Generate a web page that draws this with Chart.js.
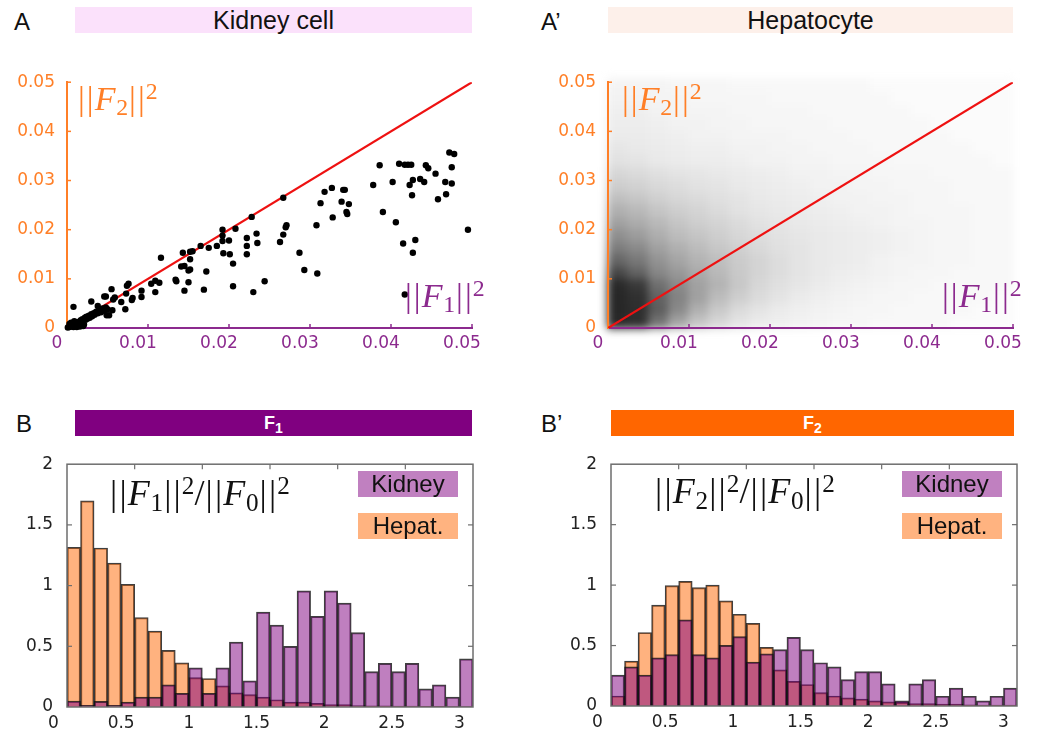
<!DOCTYPE html>
<html>
<head>
<meta charset="utf-8">
<script src="https://cdn.jsdelivr.net/npm/chart.js@4.4.1/dist/chart.umd.min.js"></script>
<style>
  html, body { margin: 0; padding: 0; background: #fff; }
  body { position: relative; width: 1037px; height: 733px; overflow: hidden; font-family: "Liberation Sans", Arial, sans-serif; color: #111; }
  canvas { position: absolute; }
  .tag { position: absolute; font-size: 24px; line-height: 24px; }
  .band { position: absolute; height: 26px; line-height: 26px; text-align: center; font-size: 25px; }
  .band.dark { color: #fff; font-weight: bold; font-size: 18px; }
  .band.dark .s { font-size: 14px; position: relative; top: 4px; }
  .math { position: absolute; font-family: "Liberation Serif", "DejaVu Serif", serif; white-space: nowrap; line-height: 1; }
  .math i { font-style: italic; margin-right: 0.02em; }
  .math .b { margin: 0 0.03em; }
  .math .sb { font-size: 0.7em; position: relative; top: 0.22em; }
  .math .sp { font-size: 0.7em; position: relative; top: -0.45em; }
  .key { position: absolute; width: 100px; height: 26px; line-height: 26px; text-align: center; font-size: 24px; }
</style>
</head>
<body>

<div class="tag" style="left:14px;top:10px">A</div>
<div class="band" style="left:75px;top:7px;width:397px;background:#fbe1fb">Kidney cell</div>
<div class="tag" style="left:541px;top:10px">A’</div>
<div class="band" style="left:608px;top:7px;width:405px;background:#fdf0ea">Hepatocyte</div>

<div class="tag" style="left:16px;top:412px">B</div>
<div class="band dark" style="left:75px;top:410px;width:397px;background:#800080">F<span class="s">1</span></div>
<div class="tag" style="left:541px;top:412px">B’</div>
<div class="band dark" style="left:611px;top:410px;width:403px;background:#ff6600">F<span class="s">2</span></div>

<canvas id="kidney" width="500" height="310" style="left:0;top:60px"></canvas>
<canvas id="hepCloud" width="517" height="310" style="left:520px;top:60px;filter:blur(4px)"></canvas>
<canvas id="hep" width="517" height="310" style="left:520px;top:60px"></canvas>
<canvas id="histF1" width="500" height="300" style="left:0;top:440px"></canvas>
<canvas id="histF2" width="517" height="300" style="left:520px;top:440px"></canvas>

<div class="math" style="left:77px;top:82px;font-size:34px;color:#ff7f27"><span class="b">|</span><span class="b">|</span><i>F</i><span class="sb">2</span><span class="b">|</span><span class="b">|</span><span class="sp">2</span></div>
<div class="math" style="left:404px;top:279px;font-size:34px;color:#8c2a8e"><span class="b">|</span><span class="b">|</span><i>F</i><span class="sb">1</span><span class="b">|</span><span class="b">|</span><span class="sp">2</span></div>
<div class="math" style="left:621px;top:82px;font-size:34px;color:#ff7f27"><span class="b">|</span><span class="b">|</span><i>F</i><span class="sb">2</span><span class="b">|</span><span class="b">|</span><span class="sp">2</span></div>
<div class="math" style="left:941px;top:279px;font-size:34px;color:#8c2a8e"><span class="b">|</span><span class="b">|</span><i>F</i><span class="sb">1</span><span class="b">|</span><span class="b">|</span><span class="sp">2</span></div>

<div class="math" style="left:109px;top:475px;font-size:36px;color:#111"><span class="b">|</span><span class="b">|</span><i>F</i><span class="sb">1</span><span class="b">|</span><span class="b">|</span><span class="sp">2</span>/<span class="b">|</span><span class="b">|</span><i>F</i><span class="sb">0</span><span class="b">|</span><span class="b">|</span><span class="sp">2</span></div>
<div class="math" style="left:654px;top:473px;font-size:36px;color:#111"><span class="b">|</span><span class="b">|</span><i>F</i><span class="sb">2</span><span class="b">|</span><span class="b">|</span><span class="sp">2</span>/<span class="b">|</span><span class="b">|</span><i>F</i><span class="sb">0</span><span class="b">|</span><span class="b">|</span><span class="sp">2</span></div>

<div class="key" style="left:358px;top:471px;background:#c080c0">Kidney</div>
<div class="key" style="left:358px;top:513px;background:#ffb380">Hepat.</div>
<div class="key" style="left:902px;top:471px;background:#c080c0">Kidney</div>
<div class="key" style="left:902px;top:513px;background:#ffb380">Hepat.</div>

<script>
// ---------- values ----------
const scatterTicks = [0, 0.01, 0.02, 0.03, 0.04, 0.05];

// kidney cells: [ ||F1||^2 , ||F2||^2 ]
const kidneyF1F2 = [
  [0.0001,0.0001],[0.0003,0.0002],[0.0004,0.0004],[0.0006,0.0003],[0.0007,0.0006],
  [0.0008,0.0002],[0.0009,0.0008],[0.0010,0.0005],[0.0011,0.0010],[0.0012,0.0007],
  [0.0013,0.0012],[0.0014,0.0004],[0.0015,0.0013],[0.0016,0.0009],[0.0017,0.0016],
  [0.0018,0.0012],[0.0019,0.0018],[0.0020,0.0015],[0.0021,0.0007],[0.0022,0.0021],
  [0.0023,0.0017],[0.0024,0.0023],[0.0025,0.0019],[0.0027,0.0025],[0.0028,0.0021],
  [0.0030,0.0028],[0.0031,0.0024],[0.0033,0.0030],[0.0034,0.0027],[0.0036,0.0033],
  [0.0038,0.0030],[0.0040,0.0036],[0.0042,0.0032],[0.0044,0.0040],[0.0046,0.0036],
  [0.0048,0.0042],[0.0050,0.0038],[0.0005,0.0011],[0.0009,0.0014],[0.0003,0.0008],
  [0.0012,0.0002],[0.0016,0.0003],[0.0020,0.0004],[0.0008,0.0043],[0.0030,0.0054],
  [0.0038,0.0045],[0.0046,0.0064],[0.0048,0.0064],[0.0049,0.0026],[0.0052,0.0026],
  [0.0055,0.0079],[0.0056,0.0036],[0.0057,0.0058],[0.0059,0.0062],[0.0067,0.0053],
  [0.0072,0.0038],[0.0073,0.0070],[0.0074,0.0086],[0.0076,0.0090],[0.0080,0.0057],
  [0.0081,0.0061],[0.0092,0.0076],[0.0092,0.0063],[0.0104,0.0090],[0.0109,0.0096],
  [0.0109,0.0073],[0.0114,0.0092],[0.0116,0.0143],[0.0134,0.0098],[0.0135,0.0095],
  [0.0141,0.0125],[0.0145,0.0126],[0.0143,0.0153],[0.0145,0.0076],[0.0150,0.0117],
  [0.0152,0.0119],[0.0150,0.0093],[0.0152,0.0140],[0.0152,0.0155],[0.0155,0.0156],
  [0.0165,0.0167],[0.0169,0.0078],[0.0172,0.0115],[0.0175,0.0163],[0.0185,0.0167],
  [0.0192,0.0200],[0.0192,0.0188],[0.0192,0.0177],[0.0193,0.0152],[0.0200,0.0178],
  [0.0201,0.0150],[0.0205,0.0131],[0.0205,0.0085],[0.0208,0.0202],[0.0222,0.0183],
  [0.0222,0.0167],[0.0222,0.0150],[0.0228,0.0226],[0.0234,0.0192],[0.0235,0.0173],
  [0.0230,0.0073],[0.0244,0.0095],[0.0263,0.0175],[0.0267,0.0190],[0.0270,0.0205],
  [0.0271,0.0209],[0.0267,0.0265],[0.0287,0.0153],[0.0293,0.0118],[0.0309,0.0111],
  [0.0308,0.0209],[0.0313,0.0254],[0.0318,0.0277],[0.0327,0.0285],[0.0328,0.0225],
  [0.0339,0.0257],[0.0341,0.0281],[0.0343,0.0281],[0.0345,0.0236],[0.0346,0.0232],
  [0.0348,0.0252],[0.0378,0.0291],[0.0386,0.0331],[0.0390,0.0236],[0.0402,0.0297],
  [0.0406,0.0215],[0.0410,0.0334],[0.0415,0.0172],[0.0417,0.0068],[0.0417,0.0332],
  [0.0421,0.0332],[0.0425,0.0332],[0.0423,0.0291],[0.0426,0.0270],[0.0427,0.0301],
  [0.0427,0.0153],[0.0430,0.0179],[0.0436,0.0303],[0.0441,0.0297],[0.0443,0.0331],
  [0.0446,0.0325],[0.0455,0.0314],[0.0458,0.0262],[0.0467,0.0297],[0.0468,0.0272],
  [0.0475,0.0327],[0.0475,0.0294],[0.0472,0.0357],[0.0478,0.0354],[0.0495,0.0200]
];

// identity reference line ||F1||^2 = ||F2||^2
const diagonal = [0, 0.05];

// hepatocytes: point density (percent darkness) on a square grid,
// rows from ||F2||^2 = 0 upward, columns from ||F1||^2 = 0 rightward
const hepCell = 0.0025;
const hepDensity = [
  [95,92,62,40,26,18,12, 9, 7, 6, 5, 4, 4, 3, 3, 3, 3, 2, 2, 2],
  [96,93,72,52,35,24,16,12, 9, 7, 6, 5, 4, 4, 3, 3, 3, 3, 2, 2],
  [96,92,70,55,42,30,22,16,12, 9, 7, 6, 5, 4, 4, 3, 3, 3, 3, 2],
  [95,88,64,52,42,34,25,18,14,11, 9, 7, 6, 5, 4, 4, 3, 3, 3, 3],
  [82,70,54,46,38,31,24,19,15,12,10, 8, 7, 6, 5, 4, 4, 3, 3, 3],
  [68,60,48,40,34,29,23,19,15,12,10, 9, 8, 6, 5, 5, 4, 4, 3, 3],
  [58,52,42,35,30,25,21,17,14,12,10, 9, 8, 7, 6, 5, 4, 4, 3, 3],
  [50,44,36,30,26,22,18,15,13,11,10, 9, 8, 7, 6, 5, 4, 4, 3, 3],
  [42,37,31,26,22,19,16,13,11,10, 9, 8, 7, 6, 5, 5, 4, 4, 3, 3],
  [35,31,26,22,19,16,13,11,10, 9, 8, 7, 6, 6, 5, 4, 4, 4, 3, 3],
  [28,25,21,18,16,14,12,10, 9, 8, 7, 6, 6, 5, 5, 4, 4, 3, 3, 3],
  [22,20,17,15,13,12,10, 9, 8, 7, 6, 6, 5, 5, 4, 4, 4, 3, 3, 3],
  [18,16,14,12,11,10, 9, 8, 7, 6, 6, 5, 5, 4, 4, 4, 3, 3, 3, 3],
  [13,12,10, 9, 8, 8, 7, 6, 6, 5, 5, 4, 4, 4, 3, 3, 3, 3, 3, 2],
  [11,10, 9, 8, 7, 7, 6, 6, 5, 5, 4, 4, 4, 3, 3, 3, 3, 3, 2, 2],
  [ 9, 9, 8, 7, 6, 6, 5, 5, 5, 4, 4, 4, 3, 3, 3, 3, 3, 2, 2, 2],
  [ 8, 8, 7, 6, 6, 5, 5, 4, 4, 4, 4, 3, 3, 3, 3, 3, 2, 2, 2, 2],
  [ 7, 7, 6, 5, 5, 5, 4, 4, 4, 4, 3, 3, 3, 3, 3, 2, 2, 2, 2, 2],
  [ 6, 6, 5, 5, 4, 4, 4, 4, 3, 3, 3, 3, 3, 3, 2, 2, 2, 2, 2, 2],
  [ 5, 5, 5, 4, 4, 4, 3, 3, 3, 3, 3, 3, 3, 2, 2, 2, 2, 2, 2, 2]
];

// normalised histograms of ||Fk||^2/||F0||^2, 30 bins of width 0.1 from 0 to 3
const binWidth = 0.1;
const histXTicks = [0, 0.5, 1, 1.5, 2, 2.5, 3];
const histYTicks = [0, 0.5, 1, 1.5, 2];
const f1Kidney = [0.049,0.014,0.046,0.014,0.040,0.081,0.081,0.183,0.113,0.323,
                  0.113,0.323,0.534,0.216,0.782,0.674,0.499,0.957,0.747,0.957,
                  0.855,0.612,0.291,0.359,0.291,0.359,0.149,0.183,0.081,0.396];
const f1Hepat  = [1.315,1.698,1.310,1.186,1.011,0.736,0.626,0.466,0.364,0.243,
                  0.235,0.175,0.116,0.103,0.081,0.060,0.040,0.040,0.030,0.020,
                  0.020,0.012,0.010,0.010,0.008,0.008,0.005,0.005,0.004,0.004];
const f2Kidney = [0.256,0.323,0.256,0.398,0.426,0.713,0.426,0.398,0.501,0.574,
                  0.363,0.431,0.466,0.568,0.466,0.358,0.323,0.218,0.285,0.285,
                  0.183,0.043,0.183,0.218,0.081,0.148,0.081,0.043,0.081,0.148];
const f2Hepat  = [0.083,0.372,0.608,0.834,0.996,1.031,0.980,1.000,0.870,0.759,
                  0.684,0.485,0.299,0.204,0.178,0.111,0.083,0.067,0.057,0.043,
                  0.035,0.030,0.020,0.020,0.015,0.015,0.010,0.008,0.008,0.008];

// ---------- styling ----------
const PURPLE = '#8c2a8e';
const ORANGE = '#ff7f27';
const tickFont = { family: "'DejaVu Sans', sans-serif", size: 17 };

const fixedTicks = values => scale => { scale.ticks = values.map(v => ({ value: v })); };

// short inward tick marks and the histogram frame
const axisMarks = {
  id: 'axisMarks',
  afterDraw(chart, args, o) {
    if (!o || !o.mode) return;
    const { ctx, chartArea: a, scales: { x, y } } = chart;
    ctx.save();
    if (o.mode === 'spines') {
      ctx.lineWidth = 1.5;
      ctx.strokeStyle = PURPLE;
      x.ticks.forEach(t => {
        if (t.value === x.min) return;
        const px = x.getPixelForValue(t.value);
        ctx.beginPath(); ctx.moveTo(px, a.bottom); ctx.lineTo(px, a.bottom - 4); ctx.stroke();
      });
      ctx.strokeStyle = ORANGE;
      y.ticks.forEach(t => {
        if (t.value === y.min) return;
        const py = y.getPixelForValue(t.value);
        ctx.beginPath(); ctx.moveTo(a.left, py); ctx.lineTo(a.left + 4, py); ctx.stroke();
      });
    } else if (o.mode === 'frame') {
      ctx.strokeStyle = '#6e6e6e';
      ctx.lineWidth = 1.5;
      ctx.strokeRect(a.left, a.top, a.right - a.left, a.bottom - a.top);
      ctx.lineWidth = 1.2;
      y.ticks.forEach(t => {
        if (t.value === y.min || t.value === y.max) return;
        const py = y.getPixelForValue(t.value);
        ctx.beginPath(); ctx.moveTo(a.left, py); ctx.lineTo(a.left + 5, py); ctx.stroke();
        ctx.beginPath(); ctx.moveTo(a.right, py); ctx.lineTo(a.right - 5, py); ctx.stroke();
      });
      x.ticks.forEach(t => {
        if (t.value === x.min || t.value === x.max) return;
        const px = x.getPixelForValue(t.value);
        ctx.beginPath(); ctx.moveTo(px, a.top); ctx.lineTo(px, a.top + 5); ctx.stroke();
      });
    }
    ctx.restore();
  }
};
Chart.register(axisMarks);

function scatterOptions(yWidth, padRight, visibleAxes) {
  return {
    responsive: false,
    animation: false,
    events: [],
    layout: { padding: { top: 19, right: padRight, left: 0, bottom: 0 } },
    plugins: {
      legend: { display: false },
      tooltip: { enabled: false },
      axisMarks: { mode: visibleAxes ? 'spines' : null }
    },
    scales: {
      x: {
        type: 'linear', min: 0, max: 0.05,
        afterBuildTicks: fixedTicks(scatterTicks),
        afterFit: s => { s.height = 42; },
        grid: { display: false, drawTicks: false },
        border: { display: visibleAxes, color: PURPLE, width: 2 },
        ticks: { display: visibleAxes, color: PURPLE, font: tickFont, padding: 5, labelOffset: -10,
                 maxRotation: 0, autoSkip: false, callback: v => String(v) }
      },
      y: {
        type: 'linear', min: 0, max: 0.05,
        afterBuildTicks: fixedTicks(scatterTicks),
        afterFit: s => { s.width = yWidth; },
        grid: { display: false, drawTicks: false },
        border: { display: visibleAxes, color: ORANGE, width: 2 },
        ticks: { display: visibleAxes, color: ORANGE, font: tickFont, padding: 12,
                 autoSkip: false, callback: v => String(v) }
      }
    }
  };
}

const diagonalDataset = () => ({
  data: diagonal.map(v => ({ x: v, y: v })),
  showLine: true, borderColor: '#ee1111', borderWidth: 2.2,
  pointRadius: 0, fill: false
});

// ---------- A : kidney cells ----------
new Chart(document.getElementById('kidney'), {
  type: 'scatter',
  data: {
    datasets: [
      { data: kidneyF1F2.map(([x, y]) => ({ x, y })), pointRadius: 3.2,
        pointBackgroundColor: '#000', pointBorderWidth: 0, clip: false },
      diagonalDataset()
    ]
  },
  options: scatterOptions(67, 28, true)
});

// ---------- A' : hepatocyte density cloud ----------
// each grid cell is painted as an opaque grey tile, so neighbouring tiles never stack
const cellCache = new Map();
function cellImage(chart, d) {
  const xs = chart.scales.x, ys = chart.scales.y;
  const w = Math.ceil(Math.abs(xs.getPixelForValue(hepCell) - xs.getPixelForValue(0))) + 1;
  const h = Math.ceil(Math.abs(ys.getPixelForValue(hepCell) - ys.getPixelForValue(0))) + 1;
  if (!isFinite(w) || !isFinite(h)) return 'rect';
  const key = d + ':' + w + 'x' + h;
  if (!cellCache.has(key)) {
    const c = document.createElement('canvas');
    c.width = w; c.height = h;
    const g = c.getContext('2d');
    const lum = Math.round(255 - (255 - 30) * d / 100);
    g.fillStyle = 'rgb(' + lum + ',' + lum + ',' + lum + ')';
    g.fillRect(0, 0, w, h);
    cellCache.set(key, c);
  }
  return cellCache.get(key);
}

const hepCells = [];
hepDensity.forEach((row, j) => row.forEach((d, i) => {
  hepCells.push({ x: (i + 0.5) * hepCell, y: (j + 0.5) * hepCell, d });
}));

new Chart(document.getElementById('hepCloud'), {
  type: 'scatter',
  data: {
    datasets: [{
      data: hepCells,
      pointRadius: 12,
      pointBorderWidth: 0,
      pointStyle: c => (c.raw ? cellImage(c.chart, c.raw.d) : 'rect'),
      clip: false
    }]
  },
  options: scatterOptions(88, 24, false)
});

new Chart(document.getElementById('hep'), {
  type: 'scatter',
  data: { datasets: [diagonalDataset()] },
  options: scatterOptions(88, 24, true)
});

// ---------- B, B' : histograms ----------
function histChart(id, kidney, hepat, yWidth, padTop, padRight, xHeight) {
  const toBins = arr => arr.map((v, i) => ({ x: (i + 0.5) * binWidth, y: v }));
  const common = { grouped: false, barPercentage: 1, categoryPercentage: 1,
                   borderColor: 'rgba(15,15,15,0.8)', borderWidth: 1.3 };
  new Chart(document.getElementById(id), {
    type: 'bar',
    data: {
      datasets: [
        Object.assign({ label: 'Kidney', data: toBins(kidney), backgroundColor: 'rgba(128,0,128,0.5)' }, common),
        Object.assign({ label: 'Hepat.', data: toBins(hepat), backgroundColor: 'rgba(255,102,0,0.5)' }, common)
      ]
    },
    options: {
      responsive: false,
      animation: false,
      events: [],
      layout: { padding: { top: padTop, right: padRight, left: 0, bottom: 0 } },
      plugins: { legend: { display: false }, tooltip: { enabled: false }, axisMarks: { mode: 'frame' } },
      scales: {
        x: {
          type: 'linear', min: 0, max: 3, offset: false,
          afterBuildTicks: fixedTicks(histXTicks),
          afterFit: s => { s.height = xHeight; },
          grid: { display: false, drawTicks: false },
          border: { display: false },
          ticks: { color: '#222', font: tickFont, padding: 6, labelOffset: -13.5,
                   maxRotation: 0, autoSkip: false, callback: v => String(v) }
        },
        y: {
          type: 'linear', min: 0, max: 2,
          afterBuildTicks: fixedTicks(histYTicks),
          afterFit: s => { s.width = yWidth; },
          grid: { display: false, drawTicks: false },
          border: { display: false },
          ticks: { color: '#222', font: tickFont, padding: 14, autoSkip: false, callback: v => String(v) }
        }
      }
    }
  });
}

histChart('histF1', f1Kidney, f1Hepat, 67, 19, 27, 33);
histChart('histF2', f2Kidney, f2Hepat, 91, 18, 20, 34);
</script>
</body>
</html>
